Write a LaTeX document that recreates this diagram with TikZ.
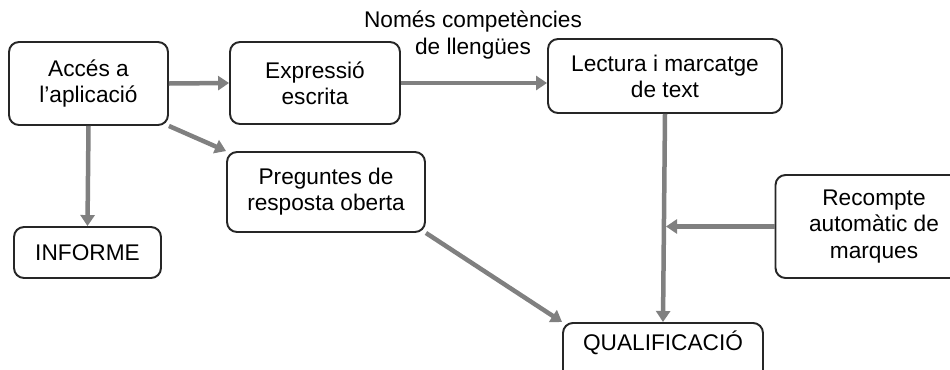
\documentclass[tikz,border=0pt]{standalone}
\usepackage{fontspec}
\setmainfont{Liberation Sans}
\usetikzlibrary{arrows.meta,positioning}

\begin{document}
\begin{tikzpicture}[x=0.02cm, y=-0.02cm,
  caixa/.style={draw=black!85, line width=1.1pt, rounded corners=0.2cm, align=center,
    font=\fontsize{12.9}{14.9}\selectfont, inner sep=0pt},
  fletxa/.style={draw=black!50, line width=0.09cm, -{Triangle[length=2.2mm,width=2.8mm]}},
]

\useasboundingbox (0,0) rectangle (950,369);
\clip (0,0) rectangle (950,369);

\node[caixa, minimum width=3.18cm, minimum height=1.66cm] (acces) at (88.5,83.5) {Accés a\\l'aplicació};
\node[caixa, minimum width=3.4cm, minimum height=1.64cm] (expr) at (315,83) {Expressió\\escrita};
\node[caixa, minimum width=4.68cm, minimum height=1.48cm] (lect) at (665,76) {Lectura i marcatge\\de text};
\node[caixa, minimum width=3.96cm, minimum height=1.6cm] (preg) at (326,192) {Preguntes de\\resposta oberta};
\node[caixa, minimum width=2.94cm, minimum height=1.02cm] (inf) at (87.5,252.5) {INFORME};
\node[caixa, minimum width=3.94cm, minimum height=2.06cm] (recom) at (874,226.5) {Recompte\\automàtic de\\marques};
\node[caixa, anchor=north, minimum width=4cm, minimum height=1.3cm, text depth=0.6cm] (qual) at (663,322) {QUALIFICACIÓ};

\node[align=center, inner sep=0pt, font=\fontsize{12.9}{14.9}\selectfont] (nomes) at (473,35) {Només competències\\de llengües};

\coordinate (marca) at (666,226.5);

\draw[fletxa] (acces.east) -- (expr.west);
\draw[fletxa] (expr.east) -- (expr.east -| lect.west);
\draw[fletxa] (acces.south) -- (inf.north);
\draw[fletxa] (acces.south east) -- (preg.north west);
\draw[fletxa] (preg.south east) -- (qual.north west);
\draw[fletxa] (lect.south) -- (qual.north);
\draw[fletxa] (recom.west) -- (marca);

\end{tikzpicture}
\end{document}
